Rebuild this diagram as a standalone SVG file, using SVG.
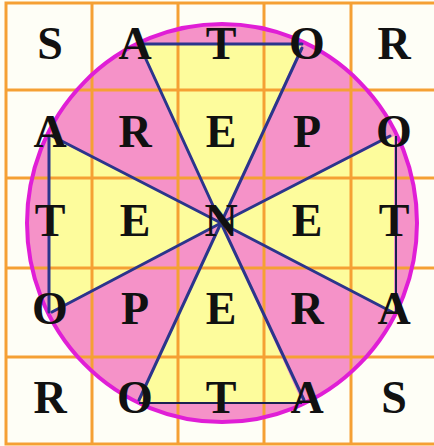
<svg xmlns="http://www.w3.org/2000/svg" width="434" height="446" viewBox="0 0 434 446">
<style>
.grid{stroke:#f5a034;stroke-width:3;fill:none}
.ln{stroke:#2b358c;stroke-width:3;stroke-linecap:round;fill:none}
.ln2{stroke:#1a1f50;stroke-width:2;fill:none}
.t{font-family:"Liberation Serif","Times New Roman",serif;font-weight:bold;font-size:46px;fill:#111;text-anchor:middle}
</style>
<rect x="0" y="0" width="434" height="446" fill="#fefef6"/>
<g id="fills">
<ellipse cx="222" cy="223" rx="195" ry="199" fill="#f592c8"/>
<polygon points="221,223 139,44 302,44" fill="#fdfc9c"/>
<polygon points="221,223 394,136 394,312" fill="#fdfc9c"/>
<polygon points="221,223 302,402 139,402" fill="#fdfc9c"/>
<polygon points="221,223 49,312 49,136" fill="#fdfc9c"/>
</g>
<g id="grid" class="grid">
<rect x="6" y="3" width="430" height="441"/>
<line x1="92" y1="3" x2="92" y2="444"/>
<line x1="178" y1="3" x2="178" y2="444"/>
<line x1="264" y1="3" x2="264" y2="444"/>
<line x1="351" y1="3" x2="351" y2="444"/>
<line x1="6" y1="90" x2="436" y2="90"/>
<line x1="6" y1="178" x2="436" y2="178"/>
<line x1="6" y1="268" x2="436" y2="268"/>
<line x1="6" y1="357" x2="436" y2="357"/>
</g>
<ellipse cx="222" cy="223" rx="195" ry="199" fill="none" stroke="#e01ed6" stroke-width="4"/>
<g id="connectors">
<line class="ln" x1="139" y1="44" x2="302" y2="44"/>
<line class="ln" x1="49" y1="136" x2="49" y2="312"/>
<line class="ln2" x1="396" y1="136" x2="396" y2="312"/>
<line class="ln2" x1="139" y1="403" x2="302" y2="403"/>
<line class="ln" x1="221" y1="223" x2="139" y2="44"/>
<line class="ln" x1="221" y1="223" x2="302" y2="48"/>
<line class="ln" x1="221" y1="223" x2="390" y2="136"/>
<line class="ln" x1="221" y1="223" x2="392" y2="312"/>
<line class="ln" x1="221" y1="223" x2="304" y2="400"/>
<line class="ln" x1="221" y1="223" x2="139" y2="400"/>
<line class="ln" x1="221" y1="223" x2="52" y2="312"/>
<line class="ln" x1="221" y1="223" x2="52" y2="136"/>
</g>
<g id="r1c1"><text class="t" x="50" y="59">S</text></g>
<g id="r1c2"><text class="t" x="135" y="59">A</text></g>
<g id="r1c3"><text class="t" x="221" y="59">T</text></g>
<g id="r1c4"><text class="t" x="307" y="59">O</text></g>
<g id="r1c5"><text class="t" x="394" y="59">R</text></g>
<g id="r2c1"><text class="t" x="50" y="147">A</text></g>
<g id="r2c2"><text class="t" x="135" y="147">R</text></g>
<g id="r2c3"><text class="t" x="221" y="147">E</text></g>
<g id="r2c4"><text class="t" x="307" y="147">P</text></g>
<g id="r2c5"><text class="t" x="394" y="147">O</text></g>
<g id="r3c1"><text class="t" x="50" y="236">T</text></g>
<g id="r3c2"><text class="t" x="135" y="236">E</text></g>
<g id="r3c3"><text class="t" x="221" y="236">N</text></g>
<g id="r3c4"><text class="t" x="307" y="236">E</text></g>
<g id="r3c5"><text class="t" x="394" y="236">T</text></g>
<g id="r4c1"><text class="t" x="50" y="324">O</text></g>
<g id="r4c2"><text class="t" x="135" y="324">P</text></g>
<g id="r4c3"><text class="t" x="221" y="324">E</text></g>
<g id="r4c4"><text class="t" x="307" y="324">R</text></g>
<g id="r4c5"><text class="t" x="394" y="324">A</text></g>
<g id="r5c1"><text class="t" x="50" y="413">R</text></g>
<g id="r5c2"><text class="t" x="135" y="413">O</text></g>
<g id="r5c3"><text class="t" x="221" y="413">T</text></g>
<g id="r5c4"><text class="t" x="307" y="413">A</text></g>
<g id="r5c5"><text class="t" x="394" y="413">S</text></g>
</svg>
